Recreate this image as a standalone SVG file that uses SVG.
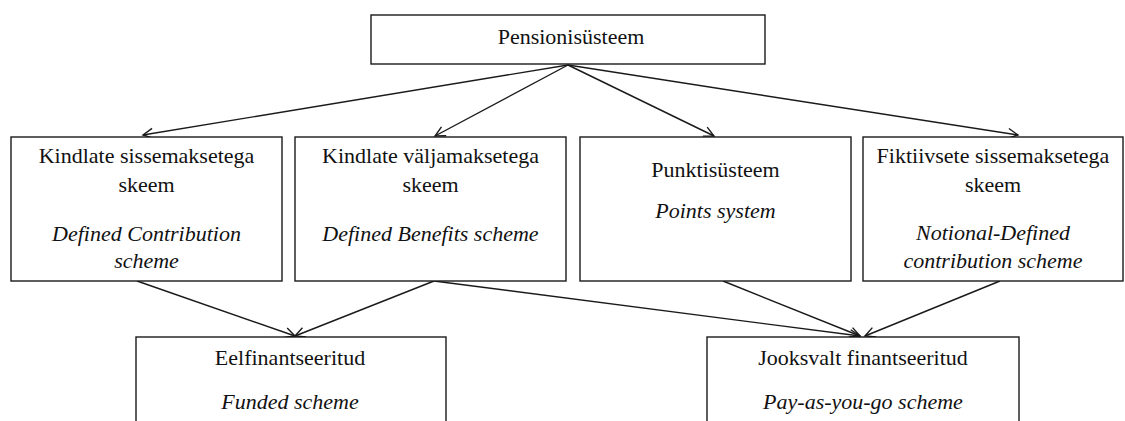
<svg xmlns="http://www.w3.org/2000/svg" width="1125" height="421" viewBox="0 0 1125 421">
  <style>
    .box { fill: #ffffff; stroke: #1a1a1a; stroke-width: 1.4; }
    .t { font-family: "Liberation Serif", "Times New Roman", serif; font-size: 22px; fill: #111111; text-anchor: middle; }
    .i { font-style: italic; }
    .c { stroke: #1a1a1a; stroke-width: 1.4; fill: none; marker-end: url(#arr); }
  </style>
  <defs>
    <marker id="arr" markerUnits="userSpaceOnUse" markerWidth="16" markerHeight="16" refX="11" refY="6" orient="auto">
      <path d="M1,1 L11,6 L1,11" fill="none" stroke="#1a1a1a" stroke-width="1.4"/>
    </marker>
  </defs>
  <rect width="1125" height="421" fill="#ffffff"/>

  <g id="connectors">
    <line class="c" x1="568" y1="65" x2="143" y2="135"/>
    <line class="c" x1="568" y1="65" x2="435" y2="136"/>
    <line class="c" x1="568" y1="65" x2="714" y2="136"/>
    <line class="c" x1="568" y1="65" x2="1018" y2="135"/>
    <line class="c" x1="137" y1="281" x2="295" y2="336"/>
    <line class="c" x1="434" y1="281" x2="295" y2="336"/>
    <line class="c" x1="434" y1="281" x2="860" y2="336"/>
    <line class="c" x1="723" y1="281" x2="860" y2="336"/>
    <line class="c" x1="1000" y1="281" x2="865" y2="336"/>
  </g>

  <g id="pensionisusteem">
    <rect class="box" x="371" y="15" width="394" height="49"/>
    <text class="t" x="571" y="44">Pensionisüsteem</text>
  </g>

  <g id="kindlate-sissemaksetega">
    <rect class="box" x="11" y="137" width="271" height="144"/>
    <text class="t" x="146.5" y="163">Kindlate sissemaksetega</text>
    <text class="t" x="146.5" y="192">skeem</text>
    <text class="t i" x="146.5" y="241">Defined Contribution</text>
    <text class="t i" x="146.5" y="268">scheme</text>
  </g>

  <g id="kindlate-valjamaksetega">
    <rect class="box" x="295" y="137" width="271" height="144"/>
    <text class="t" x="430.5" y="163">Kindlate väljamaksetega</text>
    <text class="t" x="430.5" y="192">skeem</text>
    <text class="t i" x="430.5" y="241">Defined Benefits scheme</text>
  </g>

  <g id="punktisusteem">
    <rect class="box" x="580" y="137" width="271" height="144"/>
    <text class="t" x="715.5" y="177">Punktisüsteem</text>
    <text class="t i" x="715.5" y="218">Points system</text>
  </g>

  <g id="fiktiivsete-sissemaksetega">
    <rect class="box" x="863" y="137" width="260" height="144"/>
    <text class="t" x="993" y="163">Fiktiivsete sissemaksetega</text>
    <text class="t" x="993" y="192">skeem</text>
    <text class="t i" x="993" y="240">Notional-Defined</text>
    <text class="t i" x="993" y="268">contribution scheme</text>
  </g>

  <g id="eelfinantseeritud">
    <rect class="box" x="136" y="337" width="310" height="100"/>
    <text class="t" x="290" y="365">Eelfinantseeritud</text>
    <text class="t i" x="290" y="409">Funded scheme</text>
  </g>

  <g id="jooksvalt-finantseeritud">
    <rect class="box" x="707" y="337" width="312" height="100"/>
    <text class="t" x="863" y="365">Jooksvalt finantseeritud</text>
    <text class="t i" x="863" y="409">Pay-as-you-go scheme</text>
  </g>
</svg>
